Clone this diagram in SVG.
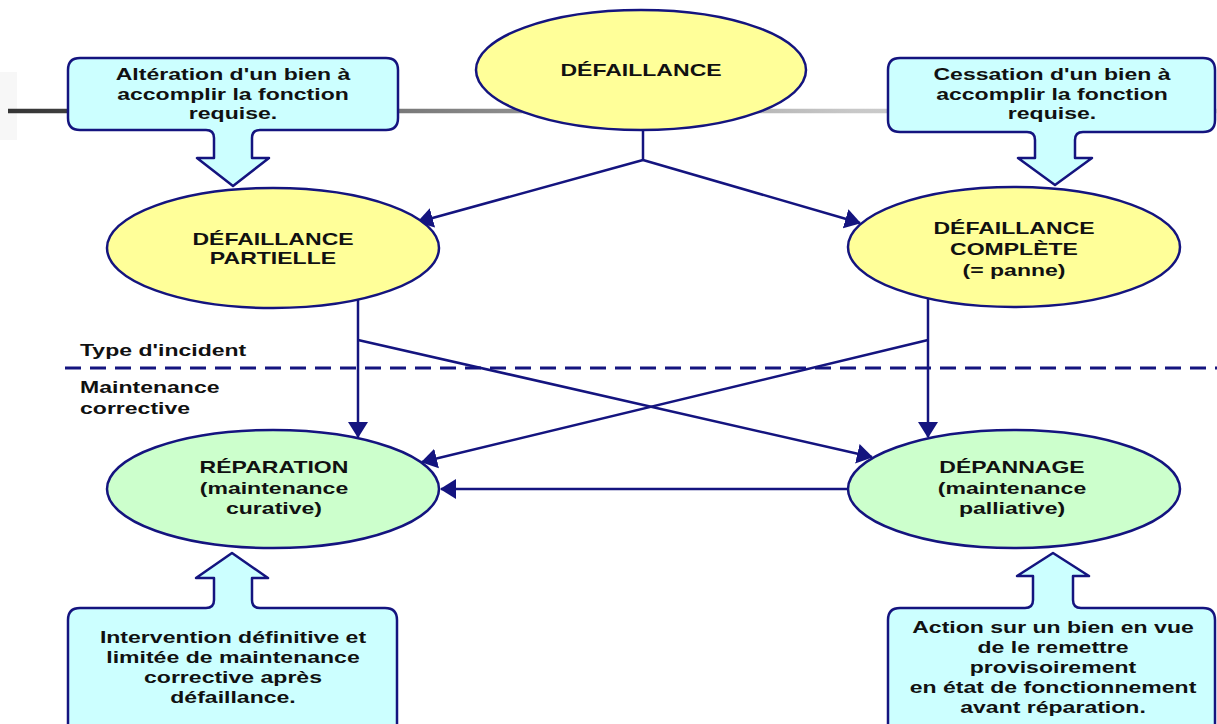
<svg xmlns="http://www.w3.org/2000/svg" width="1217" height="724" viewBox="0 0 1217 724">
  <style>
    .lbl { font-family: "Liberation Sans", Arial, Helvetica, sans-serif; font-weight: bold; font-size: 16px; fill: #111111; text-anchor: middle; }
    .side { text-anchor: start; }
    .callout { fill: #ccffff; stroke: #14147f; stroke-width: 2.5; stroke-linejoin: round; }
    .fault { fill: #ffff99; stroke: #14147f; stroke-width: 2.5; }
    .fix { fill: #ccffcc; stroke: #14147f; stroke-width: 2.5; }
    .link { fill: none; stroke: #14147f; stroke-width: 2.5; }
  </style>
  <defs>
    <linearGradient id="rule" x1="0" y1="0" x2="1217" y2="0" gradientUnits="userSpaceOnUse">
      <stop offset="0" stop-color="#333333"/>
      <stop offset="0.4" stop-color="#888888"/>
      <stop offset="0.7" stop-color="#c8c8c8"/>
      <stop offset="1" stop-color="#dddddd"/>
    </linearGradient>
    <marker id="head" markerUnits="userSpaceOnUse" markerWidth="16" markerHeight="22" viewBox="0 0 16 22" refX="15" refY="11" orient="auto">
      <path d="M0,1 L16,11 L0,21 Z" fill="#14147f"/>
    </marker>
  </defs>

  <rect width="1217" height="724" fill="#ffffff"/>

  <!-- slide header rule -->
  <rect x="0" y="72" width="17" height="68" fill="#f7f7f7"/>
  <line x1="8" y1="111" x2="1217" y2="111" stroke="url(#rule)" stroke-width="4.5"/>

  <!-- boundary between incident types and corrective maintenance -->
  <g id="boundary">
    <line x1="65" y1="368" x2="1217" y2="368" stroke="#14147f" stroke-width="3" stroke-dasharray="16 9"/>
    <text class="lbl side" transform="translate(80,356) scale(1.44,1)">Type d'incident</text>
    <text class="lbl side" transform="translate(80,393) scale(1.44,1)">Maintenance</text>
    <text class="lbl side" transform="translate(80,414) scale(1.44,1)">corrective</text>
  </g>

  <!-- connectors -->
  <g id="connectors">
    <path class="link" d="M643,130 V160"/>
    <path class="link" d="M643,160 L418,222" marker-end="url(#head)"/>
    <path class="link" d="M643,160 L860,223" marker-end="url(#head)"/>
    <path class="link" d="M358,299 V437" marker-end="url(#head)"/>
    <path class="link" d="M928,297 V437" marker-end="url(#head)"/>
    <path class="link" d="M358,340 L872,457" marker-end="url(#head)"/>
    <path class="link" d="M928,340 L422,462" marker-end="url(#head)"/>
    <path class="link" d="M848,489 H441" marker-end="url(#head)"/>
  </g>

  <!-- definition callouts -->
  <g id="note-alteration">
    <path class="callout" d="M80,58 H386 Q398,58 398,70 V118 Q398,130 386,130 H260 Q252,130 252,138 V158 H269 L233,186 L197,158 H214 V138 Q214,130 206,130 H80 Q68,130 68,118 V70 Q68,58 80,58 Z"/>
    <text class="lbl" transform="translate(233,80) scale(1.44,1)">Altération d'un bien à</text>
    <text class="lbl" transform="translate(233,100) scale(1.44,1)">accomplir la fonction</text>
    <text class="lbl" transform="translate(233,119) scale(1.44,1)">requise.</text>
  </g>

  <g id="note-cessation">
    <path class="callout" d="M900,58 H1203 Q1215,58 1215,70 V120 Q1215,132 1203,132 H1083 Q1075,132 1075,140 V158 H1092 L1055,185 L1018,158 H1035 V140 Q1035,132 1027,132 H900 Q888,132 888,120 V70 Q888,58 900,58 Z"/>
    <text class="lbl" transform="translate(1052,80) scale(1.44,1)">Cessation d'un bien à</text>
    <text class="lbl" transform="translate(1052,100) scale(1.44,1)">accomplir la fonction</text>
    <text class="lbl" transform="translate(1052,119) scale(1.44,1)">requise.</text>
  </g>

  <g id="note-reparation">
    <path class="callout" d="M80,608 H206 Q214,608 214,600 V578 H196 L232,553 L268,578 H252 V600 Q252,608 260,608 H385 Q397,608 397,620 V740 H68 V620 Q68,608 80,608 Z"/>
    <text class="lbl" transform="translate(233,643) scale(1.44,1)">Intervention définitive et</text>
    <text class="lbl" transform="translate(233,663) scale(1.44,1)">limitée de maintenance</text>
    <text class="lbl" transform="translate(233,683) scale(1.44,1)">corrective après</text>
    <text class="lbl" transform="translate(233,703) scale(1.44,1)">défaillance.</text>
  </g>

  <g id="note-depannage">
    <path class="callout" d="M900,608 H1025 Q1033,608 1033,600 V576 H1017 L1053,553 L1089,576 H1073 V600 Q1073,608 1081,608 H1203 Q1215,608 1215,620 V740 H888 V620 Q888,608 900,608 Z"/>
    <text class="lbl" transform="translate(1053,633) scale(1.44,1)">Action sur un bien en vue</text>
    <text class="lbl" transform="translate(1053,653) scale(1.44,1)">de le remettre</text>
    <text class="lbl" transform="translate(1053,673) scale(1.44,1)">provisoirement</text>
    <text class="lbl" transform="translate(1053,693) scale(1.44,1)">en état de fonctionnement</text>
    <text class="lbl" transform="translate(1053,713) scale(1.44,1)">avant réparation.</text>
  </g>

  <!-- failure types -->
  <g id="defaillance">
    <ellipse class="fault" cx="641" cy="70" rx="165" ry="60"/>
    <text class="lbl" transform="translate(641,76) scale(1.44,1)">DÉFAILLANCE</text>
  </g>

  <g id="defaillance-partielle">
    <ellipse class="fault" cx="273" cy="248" rx="166" ry="60"/>
    <text class="lbl" transform="translate(273,245) scale(1.44,1)">DÉFAILLANCE</text>
    <text class="lbl" transform="translate(273,264) scale(1.44,1)">PARTIELLE</text>
  </g>

  <g id="defaillance-complete">
    <ellipse class="fault" cx="1014" cy="247" rx="166" ry="60"/>
    <text class="lbl" transform="translate(1014,234) scale(1.44,1)">DÉFAILLANCE</text>
    <text class="lbl" transform="translate(1014,255) scale(1.44,1)">COMPLÈTE</text>
    <text class="lbl" transform="translate(1014,276) scale(1.44,1)">(= panne)</text>
  </g>

  <!-- corrective maintenance -->
  <g id="reparation">
    <ellipse class="fix" cx="273" cy="489" rx="166" ry="59"/>
    <text class="lbl" transform="translate(274,473) scale(1.44,1)">RÉPARATION</text>
    <text class="lbl" transform="translate(274,494) scale(1.44,1)">(maintenance</text>
    <text class="lbl" transform="translate(274,514) scale(1.44,1)">curative)</text>
  </g>

  <g id="depannage">
    <ellipse class="fix" cx="1014" cy="489" rx="166" ry="59"/>
    <text class="lbl" transform="translate(1012,473) scale(1.44,1)">DÉPANNAGE</text>
    <text class="lbl" transform="translate(1012,494) scale(1.44,1)">(maintenance</text>
    <text class="lbl" transform="translate(1012,514) scale(1.44,1)">palliative)</text>
  </g>
</svg>
